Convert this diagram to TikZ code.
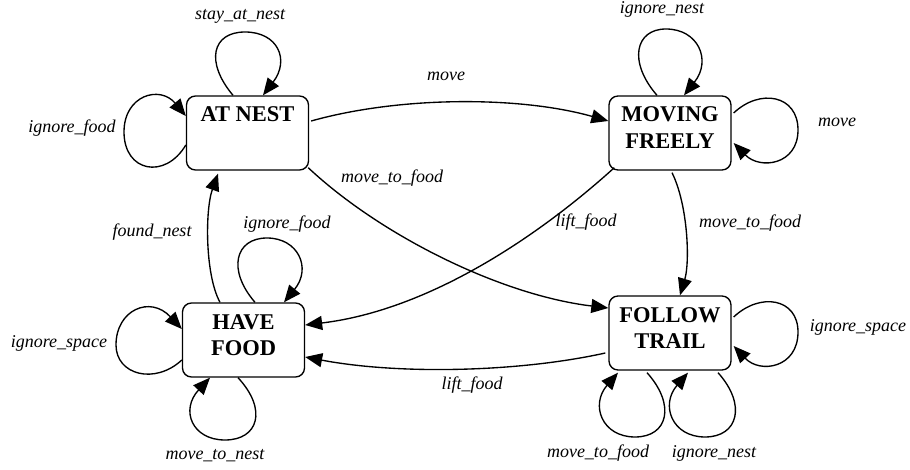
\documentclass[tikz,border=0pt]{standalone}
\usepackage{fontspec}
\setmainfont{Liberation Serif}
\usetikzlibrary{arrows.meta,calc}

\begin{document}
\begin{tikzpicture}[x=1pt,y=-1pt,
  line width=1.35pt,
  state/.style={draw, rectangle, rounded corners=9pt, inner sep=0pt,
    minimum width=122pt, minimum height=74pt,
    text height=26pt, text depth=48pt,
    font=\fontsize{22.5}{26.5}\selectfont\bfseries},
  trans/.style={-{Triangle[length=17pt,width=14pt]}},
  lbl/.style={inner sep=0pt, font=\fontsize{18}{20}\selectfont\itshape}
]
\useasboundingbox (0,0) rectangle (910,470);

% states
\node[state] (an) at (247.5,133) {\begin{tabular}[t]{@{}c@{}}AT NEST\end{tabular}};
\node[state] (mf) at (670,133) {\begin{tabular}[t]{@{}c@{}}MOVING\\FREELY\end{tabular}};
\node[state] (hf) at (243.5,340) {\begin{tabular}[t]{@{}c@{}}HAVE\\FOOD\end{tabular}};
\node[state] (ft) at (670,333) {\begin{tabular}[t]{@{}c@{}}FOLLOW\\TRAIL\end{tabular}};

% transitions between states
\draw[trans] ($(an.east)+(2,-12)$) .. controls (400,96) and (520,96) .. ($(mf.west)+(0,-12)$);
\draw[trans] ($(an.south east)+(-1,-3)$) .. controls (380,235) and (500,295) .. ($(ft.west)+(0,-25)$);
\draw[trans] ($(mf.south west)+(6,-3)$) .. controls (540,235) and (430,310) .. ($(hf.east)+(0,-15)$);
\draw[trans] ($(ft.west)+(-3,20)$) .. controls (520,372) and (400,375) .. ($(hf.east)+(0,17)$);
\draw[trans] ($(mf.south)+(2,2)$) .. controls (688,205) and (690,262) .. ($(ft.north)+(10,0)$);
\draw[trans] ($(hf.north)+(-23.5,0)$) .. controls (205,275) and (205,210) .. ($(an.south)+(-29.5,3)$);

% self loops
\draw[trans] ($(an.north)+(-14.5,0)$) .. controls (205,62) and (212,32) .. (245,32)
  .. controls (278,32) and (290,60) .. ($(an.north)+(15.5,0)$);
\draw[trans] ($(an.west)+(0,12)$) .. controls (165,180) and (124,172) .. (124,132)
  .. controls (124,95) and (160,85) .. ($(an.west)+(0,-17)$);
\draw[trans] ($(mf.north)+(-13,0)$) .. controls (628,62) and (635,29) .. (666,29)
  .. controls (698,29) and (712,60) .. ($(mf.north)+(14,0)$);
\draw[trans] ($(mf.east)+(2,-20)$) .. controls (760,88) and (798,95) .. (798,130)
  .. controls (798,165) and (760,170) .. ($(mf.east)+(2,10)$);
\draw[trans] ($(hf.north)+(11.5,0)$) .. controls (227,270) and (235,238) .. (267,238)
  .. controls (298,238) and (312,268) .. ($(hf.north)+(40.5,0)$);
\draw[trans] ($(hf.west)+(0,20)$) .. controls (155,385) and (116,375) .. (116,345)
  .. controls (116,310) and (150,295) .. ($(hf.west)+(0,-11)$);
\draw[trans] ($(hf.south)+(-5.5,0)$) .. controls (268,410) and (258,440) .. (225,440)
  .. controls (192,440) and (180,410) .. ($(hf.south)+(-33.5,0)$);
\draw[trans] ($(ft.east)+(2,-16)$) .. controls (760,292) and (798,298) .. (798,332)
  .. controls (798,368) and (760,374) .. ($(ft.east)+(2,13)$);
\draw[trans] ($(ft.south)+(-23,2)$) .. controls (676,405) and (668,437) .. (635,437)
  .. controls (602,437) and (590,405) .. ($(ft.south)+(-52,2)$);
\draw[trans] ($(ft.south)+(48,2)$) .. controls (747,405) and (738,437) .. (705,437)
  .. controls (672,437) and (660,405) .. ($(ft.south)+(18,2)$);

% transition labels
\node[lbl] (l1) at (240,16) {stay\_at\_nest};
\node[lbl] (l2) at (72,128) {ignore\_food};
\node[lbl] (l3) at (446,76) {move};
\node[lbl] (l4) at (662,9.5) {ignore\_nest};
\node[lbl] (l5) at (837,122) {move};
\node[lbl] (l6) at (392,178) {move\_to\_food};
\node[lbl] (l7) at (586,222) {lift\_food};
\node[lbl] (l8) at (152,232) {found\_nest};
\node[lbl] (l9) at (287,224) {ignore\_food};
\node[lbl] (l10) at (750,223) {move\_to\_food};
\node[lbl] (l11) at (59,343) {ignore\_space};
\node[lbl] (l12) at (858,327) {ignore\_space};
\node[lbl] (l13) at (472,385) {lift\_food};
\node[lbl] (l14) at (215,456) {move\_to\_nest};
\node[lbl] (l15) at (598,453) {move\_to\_food};
\node[lbl] (l16) at (714,453) {ignore\_nest};
\end{tikzpicture}
\end{document}
